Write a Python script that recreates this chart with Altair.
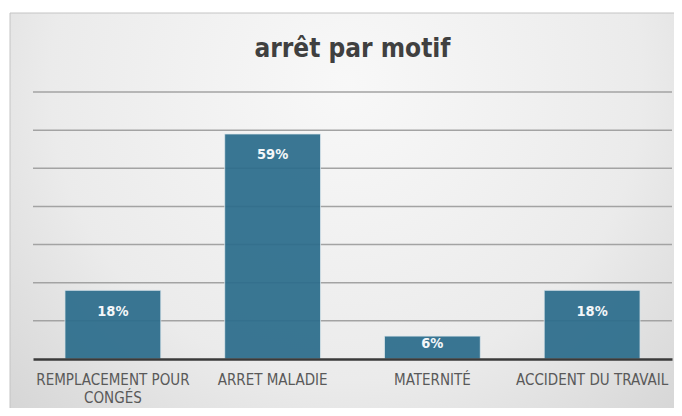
import altair as alt
import pandas as pd

title_text = "arrêt par motif"
categories = ["REMPLACEMENT POUR CONGÉS", "ARRET MALADIE", "MATERNITÉ", "ACCIDENT DU TRAVAIL"]
values = [18, 59, 6, 18]
grid_ticks = [10, 20, 30, 40, 50, 60, 70]

df = pd.DataFrame({"cat": categories, "val": values})
grid_df = pd.DataFrame({"v": grid_ticks})

FONT = "DejaVu Sans Condensed"
BAR = "#2c6d8c"
yscale = alt.Scale(domain=[0, 70], nice=False, zero=True)

bg = alt.Chart(alt.Data(values=[{"a": 1}])).mark_rect(
    fill={
        "gradient": "radial",
        "x1": 0.5, "y1": 0.3, "r1": 0.0,
        "x2": 0.5, "y2": 0.3, "r2": 0.8,
        "stops": [
            {"offset": 0, "color": "#f8f8f8"},
            {"offset": 0.55, "color": "#ebebeb"},
            {"offset": 1, "color": "#cdcdcd"},
        ],
    },
    stroke="#c4c4c4",
    strokeWidth=1,
).encode(
    x=alt.value(-23), x2=alt.value(650), y=alt.value(-79), y2=alt.value(330)
)

title = alt.Chart(alt.Data(values=[{"t": title_text}])).mark_text(
    font=FONT, fontSize=26, fontWeight="bold", color="#404040",
    align="center", baseline="alphabetic",
).encode(
    x=alt.value(319.5), y=alt.value(-35), text="t:N"
)

grid = alt.Chart(grid_df).mark_rule(color="#a3a3a3", strokeWidth=1.5).encode(
    y=alt.Y("v:Q", scale=yscale, axis=None)
)

base = alt.Chart(df).encode(
    x=alt.X(
        "cat:N",
        sort=categories,
        scale=alt.Scale(paddingInner=0.4, paddingOuter=0.2),
        axis=alt.Axis(
            title=None,
            labelAngle=0,
            ticks=False,
            domainColor="#3a3a3a",
            domainWidth=2.5,
            labelFont=FONT,
            labelFontSize=15,
            labelColor="#595959",
            labelBaseline="top",
            labelPadding=13,
            labelLineHeight=18,
            labelLimit=220,
            labelExpr="datum.label == 'REMPLACEMENT POUR CONGÉS' ? ['REMPLACEMENT POUR', 'CONGÉS'] : datum.label",
            zindex=1,
        ),
    )
)

bars = base.mark_bar(
    color=BAR, opacity=0.93, stroke="#dfe9ee", strokeWidth=1, strokeOpacity=0.8
).encode(
    y=alt.Y("val:Q", scale=yscale, axis=None)
)

labels = base.transform_calculate(
    pos="max(datum.val - 5.6, datum.val / 2 + 1)",
    lab="datum.val + '%'",
).mark_text(
    font=FONT, fontSize=14.5, fontWeight="bold", color="#f4f7f9", baseline="middle"
).encode(
    y=alt.Y("pos:Q", scale=yscale, axis=None),
    text="lab:N",
)

chart = alt.layer(bg, grid, bars, labels, title).properties(
    width=639,
    height=267,
    autosize=alt.AutoSizeParams(type="none"),
    padding={"left": 25, "top": 84, "right": 2, "bottom": 49},
    background="white",
).configure_view(stroke=None)

chart.save("out.html", embed_options={"renderer": "svg", "actions": False})
